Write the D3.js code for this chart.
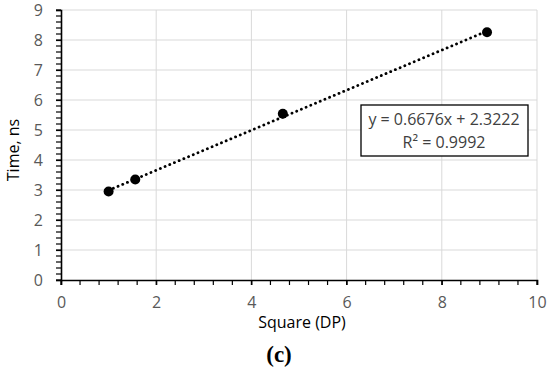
<!DOCTYPE html>
<html>
<head>
<meta charset="utf-8">
<script src="https://cdn.jsdelivr.net/npm/d3@7"></script>
<style>
  body { margin: 0; background: #fff; }
  svg { display: block; }
</style>
</head>
<body>
<svg></svg>
<script>
// data
var xValues = [1.0, 1.56, 4.66, 8.95];
var yValues = [2.95, 3.35, 5.54, 8.26];
var xTicks = [0, 2, 4, 6, 8, 10];
var yTicks = [0, 1, 2, 3, 4, 5, 6, 7, 8, 9];
var slope = 0.6676, intercept = 2.3222;
var eqLines = ["y = 0.6676x + 2.3222", "R² = 0.9992"];

var svgWidth = 550, svgHeight = 374;
var svg = d3.select("svg").attr("width", svgWidth).attr("height", svgHeight);

var x = d3.scaleLinear().domain([0, 10]).range([61, 537]);
var y = d3.scaleLinear().domain([0, 9]).range([280, 10]);

var font = "'Open Sans', 'Liberation Sans', sans-serif";

// gridlines
svg.append("g").selectAll("line.h")
  .data(yTicks.slice(1)).enter().append("line")
  .attr("x1", x(0)).attr("x2", x(10))
  .attr("y1", function(d) { return y(d); }).attr("y2", function(d) { return y(d); })
  .attr("stroke", "#d9d9d9").attr("stroke-width", 1);
svg.append("g").selectAll("line.v")
  .data(xTicks.slice(1)).enter().append("line")
  .attr("x1", function(d) { return x(d); }).attr("x2", function(d) { return x(d); })
  .attr("y1", y(0)).attr("y2", y(9))
  .attr("stroke", "#d9d9d9").attr("stroke-width", 1);

// minor ticks
var xMinor = d3.range(0, 10.001, 0.4);
var yMinor = d3.range(0, 9.001, 0.2);
svg.append("g").selectAll("line")
  .data(xMinor).enter().append("line")
  .attr("x1", function(d) { return x(d); }).attr("x2", function(d) { return x(d); })
  .attr("y1", y(0)).attr("y2", y(0) + 5)
  .attr("stroke", "#000").attr("stroke-width", 1.2);
svg.append("g").selectAll("line")
  .data(yMinor).enter().append("line")
  .attr("x1", x(0) - 5).attr("x2", x(0))
  .attr("y1", function(d) { return y(d); }).attr("y2", function(d) { return y(d); })
  .attr("stroke", "#000").attr("stroke-width", 1.2);

// axes
var xAxis = svg.append("g")
  .attr("transform", "translate(0," + y(0) + ")")
  .call(d3.axisBottom(x).tickValues(xTicks).tickSize(5).tickPadding(12).tickFormat(d3.format("d")));
var yAxis = svg.append("g")
  .attr("transform", "translate(" + x(0) + ",0)")
  .call(d3.axisLeft(y).tickValues(yTicks).tickSize(5).tickPadding(13).tickFormat(d3.format("d")));
[xAxis, yAxis].forEach(function(a) {
  a.select(".domain").attr("stroke", "#000").attr("stroke-width", 1.6);
  a.selectAll(".tick line").attr("stroke", "#000").attr("stroke-width", 1.2);
  a.selectAll(".tick text").attr("fill", "#595959")
    .style("font-family", font).style("font-size", "16px");
});

// trendline
svg.append("line")
  .attr("x1", x(xValues[0])).attr("y1", y(slope * xValues[0] + intercept))
  .attr("x2", x(xValues[3])).attr("y2", y(slope * xValues[3] + intercept))
  .attr("stroke", "#000").attr("stroke-width", 2.8)
  .attr("stroke-dasharray", "0.1,5").attr("stroke-linecap", "round");

// points
svg.append("g").selectAll("circle")
  .data(xValues).enter().append("circle")
  .attr("cx", function(d) { return x(d); })
  .attr("cy", function(d, i) { return y(yValues[i]); })
  .attr("r", 5)
  .attr("fill", "#000");

// equation box
svg.append("rect")
  .attr("x", 361).attr("y", 105).attr("width", 167).attr("height", 51)
  .attr("fill", "#fff").attr("stroke", "#000").attr("stroke-width", 1.3);
svg.append("g").selectAll("text")
  .data(eqLines).enter().append("text")
  .attr("x", 444)
  .attr("y", function(d, i) { return 125 + i * 23; })
  .attr("text-anchor", "middle")
  .attr("fill", "#404040")
  .style("font-family", font).style("font-size", "16px")
  .text(function(d) { return d; });

// axis titles
svg.append("text")
  .attr("x", 302).attr("y", 328)
  .attr("text-anchor", "middle")
  .attr("fill", "#000")
  .style("font-family", font).style("font-size", "16px")
  .text("Square (DP)");
svg.append("text")
  .attr("transform", "translate(19,150) rotate(-90)")
  .attr("text-anchor", "middle")
  .attr("fill", "#000")
  .style("font-family", font).style("font-size", "16px")
  .text("Time, ns");

// caption
svg.append("text")
  .attr("x", 279).attr("y", 362)
  .attr("text-anchor", "middle")
  .attr("fill", "#000")
  .style("font-family", "'Liberation Serif', 'DejaVu Serif', serif")
  .style("font-size", "23px").style("font-weight", "bold")
  .text("(c)");
</script>
</body>
</html>
